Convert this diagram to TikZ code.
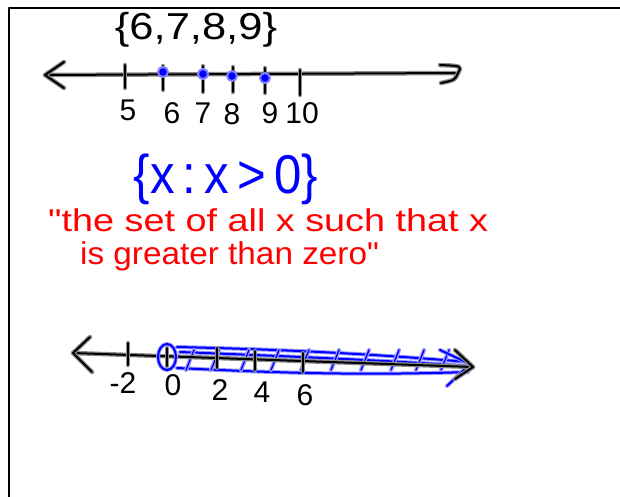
\documentclass[tikz,border=0pt]{standalone}
\usepackage{fontspec}
\setmainfont{Liberation Sans}
\begin{document}
\begin{tikzpicture}[x=1pt,y=-1pt,line cap=round,line join=round,
  blk/.style={draw=black,line width=2pt,preaction={draw=black!45,line width=4.5pt}},
  blu/.style={draw=blue,line width=2pt,preaction={draw=blue!40,line width=4pt}},
  blud/.style={fill=blue,draw=blue!50,line width=2pt},
  lbl/.style={font=\fontsize{30}{30}\selectfont,text=black,inner sep=0pt},
  frame/.style={draw=black,line width=2pt}]
\useasboundingbox (0,0) rectangle (620,497);
\fill[white] (0,0) rectangle (620,497);
% frame
\coordinate (fa) at (9,497);
\coordinate (fb) at (9,8);
\coordinate (fc) at (620,8);
\draw[frame] (fa) -- (fb) -- (fc);

% ---- top number line ----
\node[font=\fontsize{30}{30}\selectfont,inner sep=0pt] (set1) at (196,30) {\scalebox{1.45}[1.25]{\{6,7,8,9\}}};
\coordinate (tl) at (45,75);
\coordinate (tr) at (458,73);
\draw[blk] (tl) -- (tr);
\draw[blk] (64,62) -- (tl) -- (64,88);
\draw[blk] (440,65) .. controls (462,66) .. (tr) .. controls (455,80) .. (441,83);
\foreach \x/\ya/\yb in {125/65/88,163/66/90,203/66/92,233/67/92,265/68/93,300/70/95}
  \draw[blk] (\x,\ya) -- (\x,\yb);
\foreach \x/\y in {163/72,203/74,232/76,265/78}
  \draw[blud] (\x,\y) circle (5);
\foreach \x/\y/\t in {128/110/5,172/113/6,203/113/7,232/114/8,270/113/9,302/113/10}
  \node[lbl] at (\x,\y) {\t};

% ---- set builder ----
\node[text=blue,font=\fontsize{42}{42}\selectfont,inner sep=0pt] (set2) at (226,179) {\scalebox{1.17}[1.3]{\{x\,:\,x\,>\,0\}}};
\node[text=red,font=\fontsize{30}{30}\selectfont,inner sep=0pt,anchor=west] (r1) at (48,220) {\scalebox{1.26}[1.05]{\textquotedbl the set of all x such that x}};
\node[text=red,font=\fontsize{30}{30}\selectfont,inner sep=0pt,anchor=west] (r2) at (80,256) {\scalebox{1.11}[1.05]{is greater than zero\textquotedbl}};

% ---- bottom number line ----
\coordinate (bl) at (73,353);
\coordinate (br) at (473,367);
% blue band
\draw[blu] (177,347) .. controls (260,349) and (350,352) .. (468,362);
\draw[blu] (177,368) .. controls (260,372) and (350,376) .. (468,372);
\draw[blu] (180,352) .. controls (280,356) and (380,360) .. (468,366);
\foreach \x in {190,215,245,275,305,335,365,395,420,445}
  \draw[blu,line width=1.3pt] (\x-4,370) -- (\x+4,350);
\draw[blu] (440,350) -- (470,364) -- (447,386);
\draw[blk] (bl) -- (br);
\draw[blk] (90,337) -- (bl) -- (92,372);
\draw[blk] (455,350) -- (br) -- (455,379);
\foreach \x/\ya/\yb in {128/343/365,167/348/366,217/348/368,255/351/370,303/353/372}
  \draw[blk] (\x,\ya) -- (\x,\yb);
\draw[blu] (167,357) ellipse (9 and 13);
\foreach \x/\y/\t in {123/383/{-2},173/385/0,220/390/2,262/392/4,305/395/6}
  \node[lbl] at (\x,\y) {\t};
\end{tikzpicture}
\end{document}
